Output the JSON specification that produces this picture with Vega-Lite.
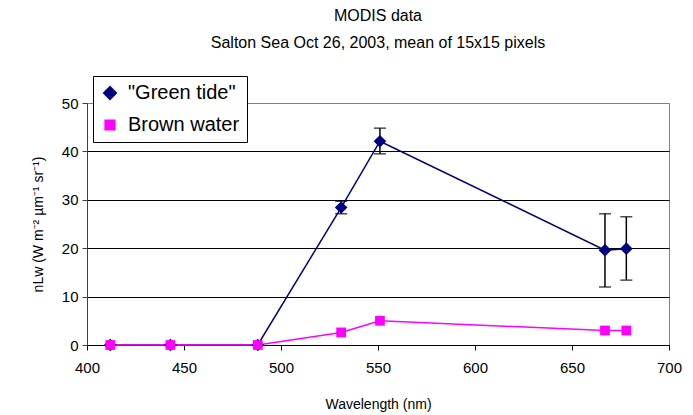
{
  "$schema": "https://vega.github.io/schema/vega-lite/v6.json",
  "autosize": {"type": "none"},
  "width": 582,
  "height": 242,
  "padding": {"left": 87, "top": 103, "right": 24, "bottom": 70},
  "background": "white",
  "title": {
    "text": ["MODIS data", "Salton Sea Oct 26, 2003, mean of 15x15 pixels"],
    "anchor": "middle",
    "font": "Liberation Sans",
    "fontSize": 16,
    "fontWeight": "normal",
    "color": "black",
    "lineHeight": 27,
    "offset": 25
  },
  "config": {
    "font": "Liberation Sans",
    "view": {"stroke": "#808080", "strokeWidth": 1},
    "axis": {
      "labelFont": "Liberation Sans",
      "titleFont": "Liberation Sans",
      "labelColor": "black",
      "titleColor": "black",
      "titleFontWeight": "normal",
      "tickColor": "#404040",
      "tickSize": 5
    }
  },
  "data": {
    "values": [
      {"series": "\"Green tide\"", "wl": 412, "val": 0},
      {"series": "\"Green tide\"", "wl": 443, "val": 0},
      {"series": "\"Green tide\"", "wl": 488, "val": 0},
      {"series": "\"Green tide\"", "wl": 531, "val": 28.4, "lo": 27.1, "hi": 29.7},
      {"series": "\"Green tide\"", "wl": 551, "val": 42.1, "lo": 39.5, "hi": 44.8},
      {"series": "\"Green tide\"", "wl": 667, "val": 19.6, "lo": 12.0, "hi": 27.1},
      {"series": "\"Green tide\"", "wl": 678, "val": 19.9, "lo": 13.4, "hi": 26.5},
      {"series": "Brown water", "wl": 412, "val": 0},
      {"series": "Brown water", "wl": 443, "val": 0},
      {"series": "Brown water", "wl": 488, "val": 0},
      {"series": "Brown water", "wl": 531, "val": 2.6},
      {"series": "Brown water", "wl": 551, "val": 5.0},
      {"series": "Brown water", "wl": 667, "val": 3.0},
      {"series": "Brown water", "wl": 678, "val": 3.0}
    ]
  },
  "encoding": {
    "x": {
      "field": "wl",
      "type": "quantitative",
      "scale": {"domain": [400, 700], "nice": false, "zero": false},
      "axis": {
        "title": "Wavelength (nm)",
        "values": [400, 450, 500, 550, 600, 650, 700],
        "grid": false,
        "labelFontSize": 15,
        "titleFontSize": 14,
        "labelPadding": 10,
        "titlePadding": 22,
        "domainColor": "black",
        "tickColor": "black",
        "labelFlush": false
      }
    }
  },
  "layer": [
    {
      "mark": {"type": "rule", "color": "black", "strokeWidth": 1.5},
      "transform": [{"filter": "isValid(datum.lo)"}],
      "encoding": {
        "y": {"field": "lo", "type": "quantitative"},
        "y2": {"field": "hi"}
      }
    },
    {
      "mark": {"type": "tick", "color": "black", "orient": "horizontal", "size": 12, "thickness": 1.5},
      "transform": [{"filter": "isValid(datum.lo)"}],
      "encoding": {"y": {"field": "lo", "type": "quantitative"}}
    },
    {
      "mark": {"type": "tick", "color": "black", "orient": "horizontal", "size": 12, "thickness": 1.5},
      "transform": [{"filter": "isValid(datum.hi)"}],
      "encoding": {"y": {"field": "hi", "type": "quantitative"}}
    },
    {
      "mark": {"type": "line", "strokeWidth": 1.5},
      "encoding": {
        "y": {
          "field": "val",
          "type": "quantitative",
          "scale": {"domain": [0, 50], "nice": false},
          "axis": {
            "title": "nLw (W m⁻² µm⁻¹ sr⁻¹)",
            "values": [0, 10, 20, 30, 40, 50],
            "labelFontSize": 15,
            "titleFontSize": 14,
            "labelPadding": 4,
            "titlePadding": 16,
            "domainColor": "#404040",
            "gridColor": {"condition": {"test": "datum.value == 50", "value": "#808080"}, "value": "black"},
            "gridOpacity": 1
          }
        },
        "color": {
          "field": "series",
          "type": "nominal",
          "scale": {"domain": ["\"Green tide\"", "Brown water"], "range": ["#000080", "#FF00FF"]}
        }
      }
    },
    {
      "mark": {"type": "point", "filled": true, "opacity": 1},
      "encoding": {
        "y": {"field": "val", "type": "quantitative"},
        "color": {
          "field": "series",
          "type": "nominal",
          "scale": {"domain": ["\"Green tide\"", "Brown water"], "range": ["#000080", "#FF00FF"]},
          "legend": {
            "title": null,
            "orient": "none",
            "legendX": 6,
            "legendY": -27,
            "strokeColor": "black",
            "fillColor": "white",
            "padding": 7,
            "labelFontSize": 20,
            "labelColor": "black",
            "labelFont": "Liberation Sans",
            "symbolSize": 150,
            "rowPadding": 12,
            "labelOffset": 8
          }
        },
        "shape": {
          "field": "series",
          "type": "nominal",
          "scale": {"domain": ["\"Green tide\"", "Brown water"], "range": ["diamond", "square"]},
          "legend": null
        },
        "size": {
          "field": "series",
          "type": "nominal",
          "scale": {"domain": ["\"Green tide\"", "Brown water"], "range": [160, 95]},
          "legend": null
        }
      }
    }
  ]
}
